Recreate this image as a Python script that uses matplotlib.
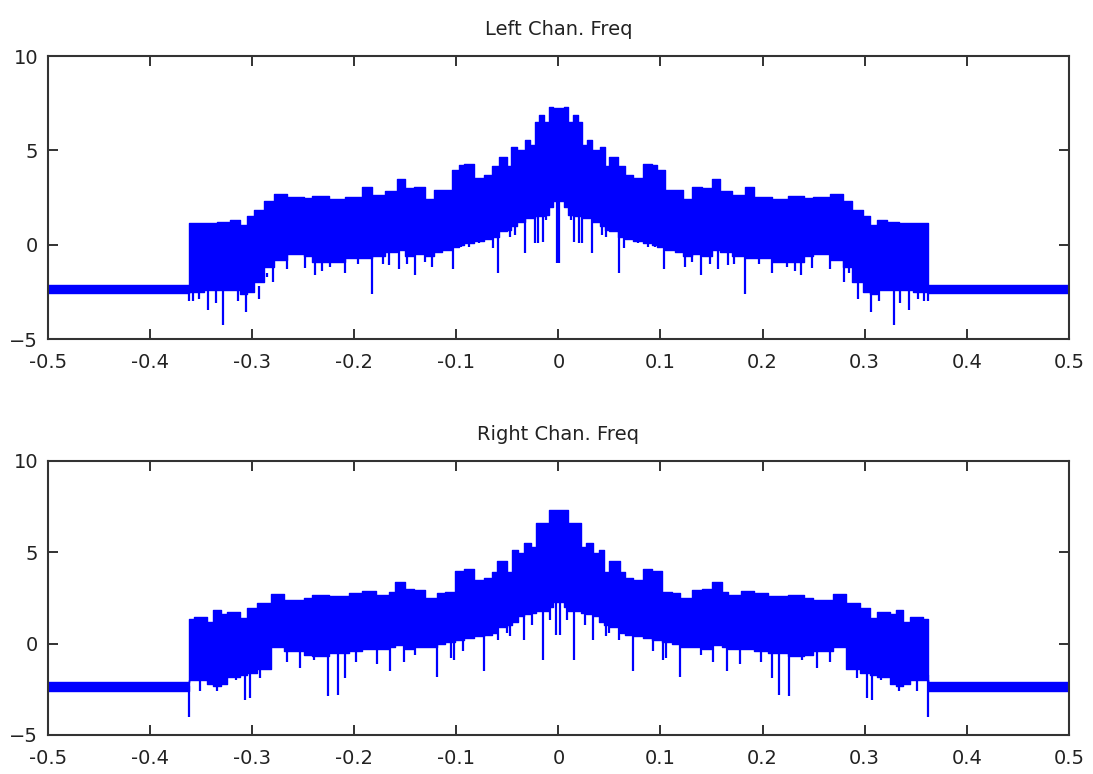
import numpy as np
import matplotlib.pyplot as plt

# positive-frequency half of each magnitude spectrum (log scale);
# the spectrum of a real signal is symmetric, so the negative half is its mirror
left_f = [0.000, 0.005, 0.009, 0.014, 0.019, 0.023, 0.028, 0.033, 0.041, 0.046,
          0.050, 0.058, 0.065, 0.073, 0.083, 0.092, 0.097, 0.104, 0.114, 0.122,
          0.131, 0.141, 0.150, 0.158, 0.170, 0.183, 0.192, 0.209, 0.225, 0.241,
          0.249, 0.266, 0.279, 0.288, 0.298, 0.305, 0.312, 0.322, 0.334, 0.347,
          0.362, 0.500]
left_hi = [7.25, 7.3, 6.5, 6.85, 6.5, 5.3, 5.55, 5.0, 5.2, 4.15,
           4.65, 4.15, 3.7, 3.55, 4.3, 4.2, 3.95, 2.9, 2.9, 2.4,
           3.05, 3.0, 3.5, 2.85, 2.65, 3.05, 2.55, 2.4, 2.6, 2.45,
           2.55, 2.7, 2.3, 1.85, 1.5, 1.05, 1.3, 1.2, 1.15, 1.15,
           -2.15, -2.15]
left_lo = [2.3, 2.0, 1.6, 1.5, 1.5, 1.4, 1.4, 1.2, 1.0, 0.8,
           0.7, 0.4, 0.3, 0.2, 0.1, 0.0, -0.1, -0.3, -0.4, -0.6,
           -0.5, -0.6, -0.3, -0.4, -0.6, -0.7, -0.7, -0.9, -0.9, -0.6,
           -0.5, -0.8, -1.2, -2.0, -2.5, -2.6, -2.4, -2.4, -2.4, -2.5,
           -2.55, -2.55]
left_spike_f = [0.001, 0.012, 0.015, 0.020, 0.023, 0.033, 0.043, 0.047, 0.059, 0.064,
                0.070, 0.078, 0.088, 0.095, 0.103, 0.124, 0.131, 0.140, 0.148, 0.156,
                0.166, 0.172, 0.183, 0.196, 0.209, 0.224, 0.232, 0.238, 0.248, 0.266,
                0.280, 0.285, 0.293, 0.306, 0.314, 0.322, 0.329, 0.335, 0.343, 0.352,
                0.358, 0.362]
left_spike_v = [-0.95, 1.3, 0.15, 0.1, 0.1, -0.45, 0.5, 0.43, -1.5, -0.15,
                0.3, 0.1, -0.1, -0.1, -1.3, -1.2, -0.9, -1.6, -1.0, -1.3,
                -1.1, -1.0, -2.6, -1.0, -1.5, -1.2, -1.4, -1.6, -1.25, -1.3,
                -2.0, -1.5, -2.9, -3.55, -3.0, -2.4, -4.25, -3.1, -3.45, -2.9,
                -3.0, -3.0]

right_f = [0.000, 0.005, 0.009, 0.015, 0.022, 0.027, 0.034, 0.040, 0.045, 0.050,
           0.060, 0.065, 0.073, 0.083, 0.092, 0.101, 0.111, 0.119, 0.131, 0.141,
           0.150, 0.160, 0.166, 0.179, 0.192, 0.205, 0.225, 0.241, 0.249, 0.269,
           0.282, 0.295, 0.305, 0.312, 0.325, 0.331, 0.338, 0.344, 0.357, 0.362,
           0.500]
right_hi = [7.3, 7.3, 6.6, 6.6, 5.3, 5.5, 4.95, 5.15, 3.95, 4.5,
            3.95, 3.6, 3.5, 4.1, 4.0, 2.85, 2.8, 2.5, 2.95, 3.0,
            3.4, 2.85, 2.65, 2.9, 2.75, 2.6, 2.65, 2.5, 2.4, 2.7,
            2.2, 1.95, 1.4, 1.75, 1.65, 1.85, 1.2, 1.45, 1.35, -2.1,
            -2.1]
right_lo = [2.3, 2.0, 1.8, 1.8, 1.7, 1.6, 1.5, 1.2, 1.0, 0.9,
            0.6, 0.5, 0.4, 0.3, 0.2, 0.1, 0.0, -0.2, -0.2, -0.3,
            -0.1, -0.2, -0.3, -0.3, -0.4, -0.5, -0.7, -0.6, -0.4, -0.2,
            -1.4, -1.6, -1.7, -1.8, -2.2, -2.3, -2.2, -2.0, -2.0, -2.6,
            -2.6]
right_spike_f = [0.002, 0.008, 0.015, 0.026, 0.034, 0.047, 0.050, 0.059, 0.073, 0.093,
                 0.102, 0.105, 0.119, 0.140, 0.151, 0.165, 0.178, 0.198, 0.209, 0.216,
                 0.226, 0.239, 0.253, 0.266, 0.292, 0.302, 0.307, 0.316, 0.334, 0.351,
                 0.362]
right_spike_v = [0.48, 1.3, -0.9, 1.0, 0.2, 0.4, 0.6, 0.2, -1.5, -0.4,
                 -0.9, -0.8, -1.8, -0.6, -1.0, -1.5, -1.1, -1.0, -1.9, -2.8,
                 -2.85, -0.9, -1.35, -1.0, -1.9, -3.0, -3.1, -2.0, -2.6, -2.6,
                 -4.0]

xticks = [-0.5, -0.4, -0.3, -0.2, -0.1, 0, 0.1, 0.2, 0.3, 0.4, 0.5]
xticklabels = ['-0.5', '-0.4', '-0.3', '-0.2', '-0.1', '0', '0.1', '0.2', '0.3', '0.4', '0.5']
yticks = [-5, 0, 5, 10]


def stairs(f, v):
    # each value holds from its own frequency up to the next one
    xs, ys = [], []
    for i in range(len(f) - 1):
        xs += [f[i], f[i + 1]]
        ys += [v[i], v[i]]
    xs = np.array(xs)
    ys = np.array(ys)
    return np.concatenate([-xs[::-1], xs]), np.concatenate([ys[::-1], ys])


def draw_spectrum(ax, f, hi, lo, sf, sv, title):
    x, top = stairs(f, hi)
    _, bot = stairs(f, lo)
    ax.fill_between(x, bot, top, color='#0000ff', lw=1.0, edgecolor='#0000ff')
    sx = np.concatenate([-np.asarray(sf), sf])
    sy = np.concatenate([sv, sv])
    base = np.array([bot[np.argmin(np.abs(x - s))] for s in sx])
    ax.vlines(sx, sy, base + 0.3, colors='#0000ff', lw=1.6)
    ax.set_xlim(-0.5, 0.5)
    ax.set_ylim(-5, 10)
    ax.set_xticks(xticks)
    ax.set_xticklabels(xticklabels)
    ax.set_yticks(yticks)
    ax.tick_params(direction='in', length=7, width=1.3, top=True, right=True,
                   labelsize=14, colors='#222222')
    ax.tick_params(axis='x', pad=10)
    ax.tick_params(axis='y', pad=7)
    for s in ax.spines.values():
        s.set_linewidth(1.5)
        s.set_color('#333333')
    ax.set_title(title, fontsize=14, pad=15, color='#222222')


fig = plt.figure(figsize=(10.93, 7.74), dpi=100)
ax1 = fig.add_axes([0.0439, 0.562, 0.934, 0.3656])
ax2 = fig.add_axes([0.0439, 0.0504, 0.934, 0.354])

draw_spectrum(ax1, left_f, left_hi, left_lo, left_spike_f, left_spike_v, 'Left Chan. Freq')
draw_spectrum(ax2, right_f, right_hi, right_lo, right_spike_f, right_spike_v, 'Right Chan. Freq')

fig.savefig('out.png', dpi=100)
